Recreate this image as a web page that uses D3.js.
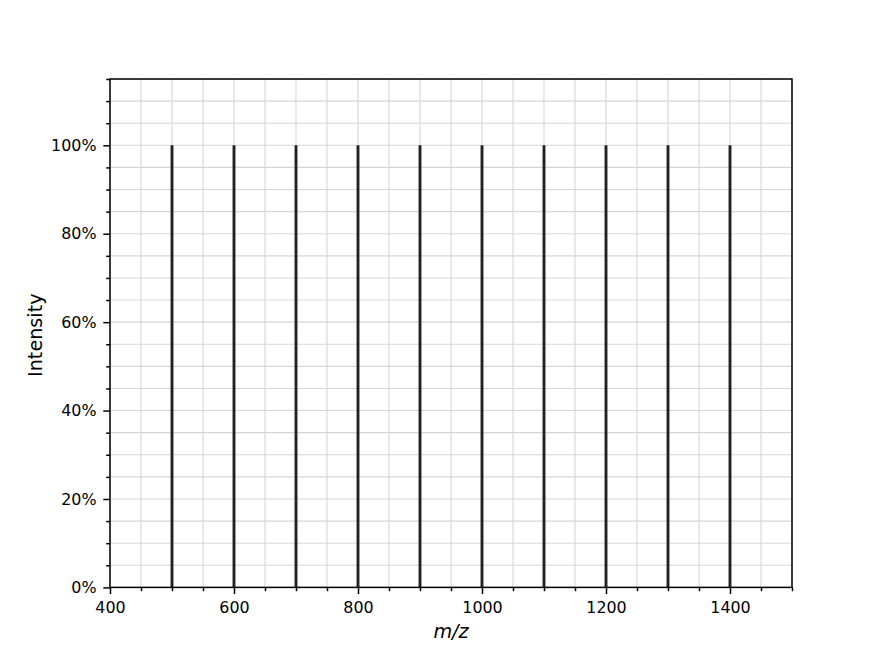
<!DOCTYPE html>
<html>
  <head>
    <meta charset="UTF-8">
    <title>Spectrum</title>
    <style>
      html, body { margin: 0; padding: 0; background: #fff; }
      text { font-family: "DejaVu Sans", sans-serif; fill: #000; }
    </style>
  </head>
  <body>
    <div id="chart"></div>
    <script src="https://d3js.org/d3.v7.min.js"></script>
    <script>
      // peaks
      var mzValues = [500, 600, 700, 800, 900, 1000, 1100, 1200, 1300, 1400];
      var intensities = [100, 100, 100, 100, 100, 100, 100, 100, 100, 100];
      var xMajorTicks = [400, 600, 800, 1000, 1200, 1400];
      var yMajorTicks = [0, 20, 40, 60, 80, 100];

      var W = 880, H = 660;
      var m = { left: 110, right: 88, top: 79, bottom: 72.6 };
      var iw = W - m.left - m.right, ih = H - m.top - m.bottom;

      var svg = d3.select("#chart").append("svg")
        .attr("width", W).attr("height", H);
      var g = svg.append("g").attr("transform", "translate(" + m.left + "," + m.top + ")");

      var x = d3.scaleLinear().domain([400, 1500]).range([0, iw]);
      var y = d3.scaleLinear().domain([0, 115]).range([ih, 0]);

      var xMinor = d3.range(400, 1501, 50);
      var yMinor = d3.range(0, 116, 5);

      // grid
      g.append("g").selectAll("line").data(xMinor).join("line")
        .attr("x1", d => x(d)).attr("x2", d => x(d))
        .attr("y1", 0).attr("y2", ih)
        .attr("stroke", "#d6d6d6").attr("stroke-width", 1.1);
      g.append("g").selectAll("line").data(yMinor).join("line")
        .attr("y1", d => y(d)).attr("y2", d => y(d))
        .attr("x1", 0).attr("x2", iw)
        .attr("stroke", "#d6d6d6").attr("stroke-width", 1.1);

      // peaks
      var peaks = mzValues.map(function(v, i){ return { mz: v, it: intensities[i] }; });
      g.append("g").selectAll("line").data(peaks).join("line")
        .attr("x1", d => x(d.mz)).attr("x2", d => x(d.mz))
        .attr("y1", y(0)).attr("y2", d => y(d.it))
        .attr("stroke", "#222").attr("stroke-width", 2.9);

      // axes: minor ticks then major
      var xMinorAxis = d3.axisBottom(x).tickValues(xMinor.filter(d => xMajorTicks.indexOf(d) < 0))
        .tickSize(3.8).tickFormat("");
      var yMinorAxis = d3.axisLeft(y).tickValues(yMinor.filter(d => yMajorTicks.indexOf(d) < 0))
        .tickSize(3.8).tickFormat("");
      var xAxis = d3.axisBottom(x).tickValues(xMajorTicks).tickSize(6.7).tickPadding(8)
        .tickFormat(d3.format("d"));
      var yAxis = d3.axisLeft(y).tickValues(yMajorTicks).tickSize(6.7).tickPadding(6.8)
        .tickFormat(d => d + "%");

      [xMinorAxis, xAxis].forEach(function(ax){
        g.append("g").attr("transform", "translate(0," + ih + ")").call(ax)
          .call(s => s.select(".domain").remove());
      });
      [yMinorAxis, yAxis].forEach(function(ax){
        g.append("g").call(ax).call(s => s.select(".domain").remove());
      });
      g.selectAll(".tick line").attr("stroke", "#000").attr("stroke-width", 1.5);
      g.selectAll(".tick text").attr("font-size", "15.9px")
        .attr("font-family", "DejaVu Sans, sans-serif").attr("fill", "#000");

      // frame
      g.append("rect").attr("width", iw).attr("height", ih)
        .attr("fill", "none").attr("stroke", "#000").attr("stroke-width", 1.5);

      // labels
      svg.append("text")
        .attr("x", m.left + iw / 2).attr("y", 638)
        .attr("text-anchor", "middle").attr("font-size", "19.2px")
        .attr("font-style", "italic").text("m/z");
      svg.append("text")
        .attr("transform", "translate(42," + (m.top + ih / 2 + 2) + ") rotate(-90)")
        .attr("text-anchor", "middle").attr("font-size", "19.2px")
        .text("Intensity");
    </script>
  </body>
</html>
